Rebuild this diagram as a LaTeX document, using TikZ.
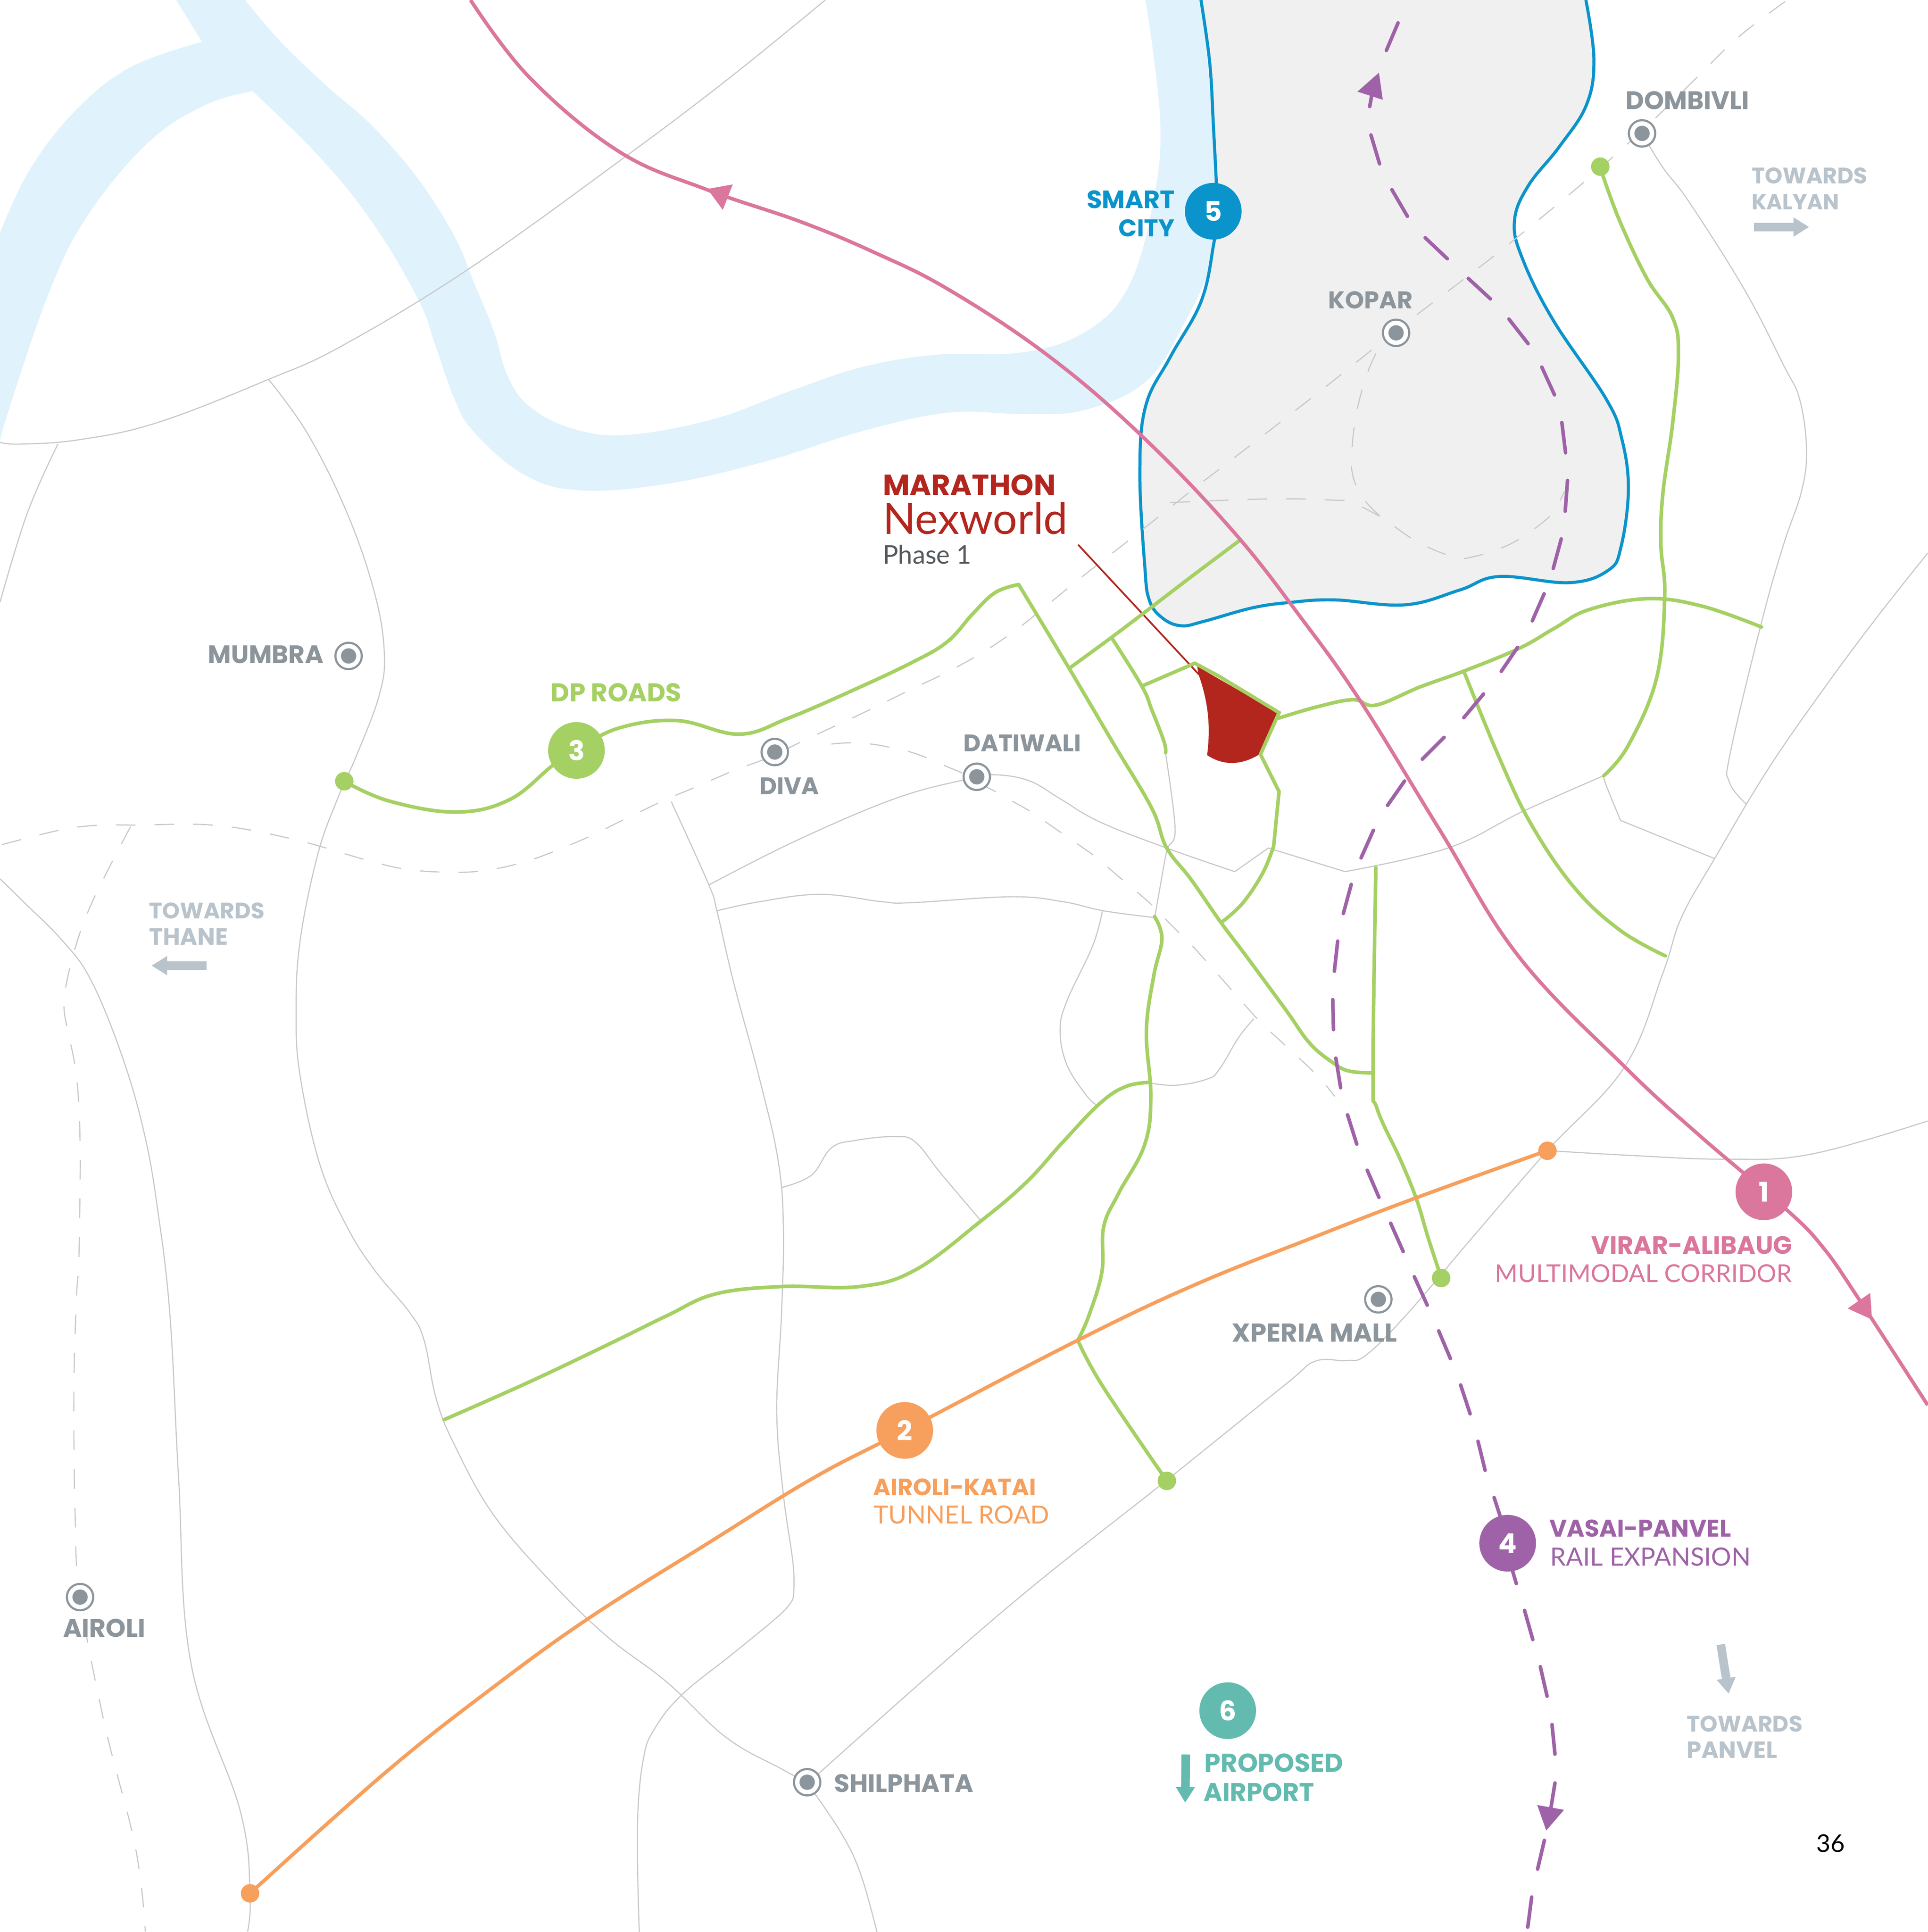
\documentclass[tikz,border=0pt]{standalone}
\usepackage{fontspec}
\usepackage{graphicx}
\setmainfont{Poppins}
\newfontfamily\lightf{Lato}
\usetikzlibrary{arrows.meta}
\definecolor{riverc}{HTML}{E0F2FC}
\definecolor{landc}{HTML}{F0F0F0}
\definecolor{bluec}{HTML}{0A94CB}
\definecolor{roadc}{HTML}{C8C8C8}
\definecolor{greenc}{HTML}{A5D063}
\definecolor{orangec}{HTML}{F79F5C}
\definecolor{pinkc}{HTML}{DB769C}
\definecolor{purplec}{HTML}{9F62A8}
\definecolor{redc}{HTML}{B2261E}
\definecolor{tealc}{HTML}{63BBAF}
\definecolor{grayc}{HTML}{8B959B}
\definecolor{lightc}{HTML}{B9C3CB}
\definecolor{phasec}{HTML}{54595E}
\newcommand{\fitw}[2]{\resizebox{#1pt}{!}{#2}}
\tikzset{
 road/.style={draw=roadc,line width=0.9pt},
 dashroad/.style={draw=roadc,line width=0.9pt,dash pattern=on 16pt off 15.4pt},
 gline/.style={draw=greenc,line width=2.9pt,line cap=round},
 badge/.style={circle,minimum size=46pt,inner sep=0pt,text=white,font=\bfseries\fontsize{22}{22}\selectfont},
 stationmark/.style={circle,draw=grayc,fill=white,line width=1.7pt,minimum size=21.4pt,inner sep=0pt,
   path picture={\fill[grayc] (path picture bounding box.center) circle[radius=6.2pt];}},
 enddot/.style={circle,minimum size=15pt,inner sep=0pt},
 lab/.style={anchor=base west,inner sep=0pt,font=\lightf},
 labb/.style={anchor=base west,inner sep=0pt,font=\bfseries},
 sm/.style={smooth,tension=0.65},
 ptr/.style={line width=7pt,-{Triangle[length=12.7pt,width=14.7pt]}},
}
\begin{document}
\begin{tikzpicture}[x=1pt,y=-1pt]
\useasboundingbox (0,0) rectangle (1565,1568.4);
% river
\fill[riverc] plot[sm] coordinates {(199,0) (228,34) (266,70.5) (303,103) (340,146) (369,192) (385,230) (401,269) (412,305) (430,330) (465,348) (510,353) (580,340) (640,318) (700,298) (760,288) (830,286) (880,270) (915,235) (935,170) (942,100) (930,0)}
 -- (975,0) -- plot[sm] coordinates {(975,0) (985,100) (988,170) (985,210) (960,265) (930,310) (880,333) (830,336) (770,335) (700,350) (620,375) (540,393) (470,398) (425,385) (385,351) (369,324) (353,279) (340,244) (304,183) (260,128) (205,74)}
 -- plot[sm] coordinates {(205,74) (165,86) (119,117) (70.5,176) (40,237) (8,330) (0,358)}
 -- plot[sm] coordinates {(0,189) (24,138) (61,90) (106,54.5) (164,34)} -- (143,0) -- cycle;
% land
\path[fill=landc,draw=bluec,line width=2.5pt] plot[sm] coordinates {(975,0) (982,50) (985,100) (988,170) (985,200) (975,245) (950,290) (930,330) (925.4,384.4) (929.3,458.4) (933,487) (943.6,501.6) (959,508) (977.4,504.4) (1016.5,493.5) (1047.8,489) (1083.7,487) (1140.7,491) (1185,479) (1217,468) (1274,473) (1305.6,463) (1316,444) (1322,397) (1316.6,356) (1304,324) (1261,260) (1236,210) (1229.5,179.5) (1240.6,151) (1266,119) (1288,85) (1294,48) (1287.5,0)};
% roads
\path[road] plot[sm] coordinates {(670,0) (590,65) (502.5,131) (381,218) (279,280) (218,308) (128,343) (64,357) (16,360.5) (0,359)};
\path[road] plot[sm] coordinates {(47,360.5) (22,417) (0,489)};
\path[road] plot[sm] coordinates {(218,308) (250,352.5) (282,417) (304,481) (312,530) (307.7,565) (290,612) (274,648.6) (258,693.5) (243.6,764) (240.4,821.7) (243.6,873) (259.6,945) (282,996.4) (304.5,1031.6) (333,1066) (344.4,1088.4) (354,1135) (368.5,1172) (400.5,1229.5) (448.6,1285.5) (493.5,1329) (541.6,1365.7) (589.6,1410.5) (634.5,1436) (655,1447)};
\path[road] plot[sm] coordinates {(655,1447) (682.6,1487.5) (698.6,1521) (712,1568.5)};
\path[road] plot[sm] coordinates {(0,713.4) (19,732) (51,764) (74,796) (99,857) (117,919.5) (128,982) (138,1068) (145,1200) (155,1350) (195,1470) (203,1537) (201,1568)};
\path[road] plot[sm] coordinates {(545,650.8) (575.5,718.4) (582,739.4) (595.7,798) (616.7,876) (631.7,942) (636,996.4) (634.5,1066) (630.6,1146) (636,1213.4) (644,1271) (644,1297)};
\path[road] plot[sm] coordinates {(644,1297) (634.5,1309.6) (596,1341.6) (554.4,1375) (532,1402.5) (522.3,1428) (517.5,1482.7) (519,1568.5)};
\path[road] plot[sm] coordinates {(575.5,718.4) (646.7,682.3) (728,647.8) (788,632) (809,629) (836,634) (860,648) (893,667.3) (947,688.4) (1002.5,707.6)};
\path[road] (1002.5,707.6) -- (1029.7,688.4) -- (1092,707.6);
\path[road] plot[sm] coordinates {(1092,707.6) (1175.6,688.4) (1236.5,658.6) (1302,629.7)};
\path[road] plot[sm] coordinates {(582,739.4) (616.7,732) (666,726) (716,732) (740,732.8) (821,728) (863,732) (896,739.4) (936.7,744.8)};
\path[road] plot[sm] coordinates {(895,739.4) (887,768) (866,813) (860.7,837) (866,864) (881,888) (890,897)};
\path[road] plot[sm] coordinates {(932.6,879) (954.4,881) (980,876) (990,868) (1005.7,842) (1018,827)};
\path[road] plot[sm] coordinates {(634.7,964) (658.8,954) (675,931.8) (695,925.7) (726,922.7) (743,927) (764,952.8) (795.5,990)};
\path[road] plot[sm] coordinates {(946.3,611.7) (954,672) (948.8,687) (946.7,693) (942.7,715) (937.6,744)};
\path[road] plot[sm] coordinates {(1302,629.7) (1303.8,637) (1315.6,666)};
\path[road] (1315.6,666) -- (1392,697);
\path[road] plot[sm] coordinates {(1333,108) (1350,136) (1372,165) (1416.5,235.6) (1448,296.5) (1461,324) (1466.6,365) (1462.5,399) (1448,442) (1430.8,502.5) (1405,610) (1404,635) (1418,653)};
\path[road] plot[sm] coordinates {(1565,449) (1522.7,502.5) (1480,560) (1435,625) (1392,697) (1365,745) (1350,790) (1319,866) (1256.3,934) (1195,1005) (1143,1066) (1109.5,1099.7) (1093.5,1104.5) (1067.8,1105) (1043.8,1123.7) (952.5,1197.4) (816.5,1306) (663.3,1441)};
\path[road] plot[sm] coordinates {(1256.3,934) (1319,937.7) (1400,941) (1470,937) (1565,910)};
% dashed rail
\path[dashroad] plot[sm] coordinates {(1.6,685.7) (48,674) (78.5,670) (110.6,669.8) (174.7,670) (237,681) (298,698.3) (328.5,705.4) (360.6,708) (391,707) (423,700.5) (452,690.3) (482,677.5) (502.5,667.3) (538.6,650) (567,638) (597,625) (624,615) (655,600) (698,580) (740,559.5) (769,545.6) (797,530) (824,512) (848.6,492.5) (873,472.6) (898,453) (922.7,433.7) (947.6,414) (972,394.5) (998,374.7) (1068,320.5) (1110,287) (1147,258) (1197.8,219.5) (1235,190) (1283.4,150) (1320,118) (1343,96.8) (1377,63.5) (1411,30.4) (1451,0)};
\path[dashroad] plot[sm] coordinates {(106,671) (84,713.4) (70.5,742.5) (60,773) (53,803.4) (52,818.5) (54.5,834.5) (61,865.6) (64,897) (65,929) (65,960) (64,1023.6) (62,1055.7) (60,1130) (61,1230) (65,1296) (85,1400) (110,1500) (118,1568)};
\path[dashroad] plot[sm] coordinates {(1117,287) (1109,306) (1101,336.5) (1097.3,368.6) (1098,384.6) (1103.3,399) (1113,412) (1125,422) (1151,440) (1180,452) (1196,452) (1225.4,442) (1251.7,424.7) (1262.8,413) (1270,399)};
\path[dashroad] plot[sm] coordinates {(950,408) (1030,405) (1082,406) (1098,408) (1125,422)};
\path[dashroad] plot[sm] coordinates {(675,604) (690,603) (707,604) (722,606.6) (737.5,610) (752,615) (767,621.6) (782,628) (795.5,636) (809,643) (823,651) (837,659) (850,668) (863,677) (876,686) (888.6,695) (901,705.5) (913,715.7) (925.3,726) (937,736.4) (948,748) (959,759) (970,770) (1002,806) (1023,829.4) (1046,851) (1069,872.7) (1083.6,890)};
% red plot
\draw[redc,line width=1.4pt] (875.3,442.2) -- (973.5,547.7);
\fill[redc] (972,541) -- (1037,578.5) -- (1022.4,612.4) .. controls (1010,620) and (995,623) .. (980,613) .. controls (983,590) and (981,570) .. (973,547.4) -- cycle;
% green
\path[gline] plot[sm] coordinates {(279.5,634.2) (315.7,650.2) (370,659.2) (413.4,649.3) (448.7,621.4) (468,609) (502.5,591) (550,585) (600,596) (640,583) (691,561) (740,538) (769,521) (790,498) (808,481) (827,474.5)};
\path[gline] plot[sm] coordinates {(827,474.5) (868,542.6) (903,602) (935,656) (947,688) (967,714) (991,748.6) (1012,776.5) (1044,820) (1063.4,847) (1082.6,863) (1095.4,869.5) (1114.7,871)};
\path[gline] plot[sm] coordinates {(868,542.6) (903,517) (934,493.5) (970,466) (1006.7,438.5)};
\path[gline] plot[sm] coordinates {(903,518.5) (927,557) (935,576) (945,602) (946.3,611)};
\path[gline] (927,557) -- (970,538.4) -- (989.7,549) -- (1038.4,578.5) -- (1023.3,612.4) -- (1038.4,642.6) -- (1034,687);
\path[gline] plot[sm] coordinates {(1034,687) (1025,709) (1009,733) (993,747.7)};
\path[gline] plot[sm] coordinates {(1038,583) (1070,573.6) (1098.6,568) (1117,572.4) (1153,557.6) (1188.4,544.8) (1233,526.5) (1262,510) (1289.7,495) (1337,486) (1381.6,492) (1430,509)};
\path[gline] plot[sm] coordinates {(1188.4,544.8) (1217,614.7) (1243,669) (1278,720.4) (1315,755) (1352,776)};
\path[gline] plot[sm] coordinates {(1300.8,141) (1315,179.5) (1337,226) (1358,258) (1362.6,288.5) (1358,343) (1350,400.6) (1348.4,442) (1351.5,484) (1345,550) (1322,605) (1302,629.7)};
\path[gline] plot[sm] coordinates {(1117,704.4) (1114.7,871) (1118,900) (1137,941.6) (1150,973.6) (1159.5,1005) (1170,1037)};
\path[gline] plot[sm] coordinates {(937.3,744) (943.3,762) (936.7,792) (930.7,837) (934.3,891) (929,930) (908,969) (896,996) (894.6,1032.4) (884,1068) (875,1088)};
\path[gline] plot[sm] coordinates {(875,1088) (895,1125) (947.3,1202.2)};
\path[gline] plot[sm] coordinates {(360.5,1152.5) (429.4,1122) (496.7,1090) (541.6,1068) (580.6,1050.5) (634.7,1044.4) (697.8,1044.4) (743,1031) (795.5,991.9) (833,960) (863,927) (893,895.7) (914,882) (934,878.6)};
% corridors
\draw[orangec,line width=2.9pt] plot[sm] coordinates {(203,1537) (314,1438) (400,1370) (479,1313) (573.6,1253.5) (660,1200) (735,1161) (875,1088) (970,1043) (1065,1005) (1148,973) (1256.3,934)};
\draw[pinkc,line width=2.9pt] plot[sm] coordinates {(382,0) (430,63) (502.5,123) (574,154) (650,180) (710,205) (770,235) (850,288) (925,352) (1000,430) (1057,502.5) (1105,570) (1169,674) (1233,776.5) (1319,866) (1380,922) (1450.4,982) (1480.3,1013) (1509.6,1055.3) (1565,1140.7)};
\fill[pinkc] (574.3,153.4) -- (594.9,149.7) -- (586.8,170.4) -- cycle;
\fill[pinkc] (1500,1062.2) -- (1518.3,1049.6) -- (1519.8,1071.2) -- cycle;
\foreach \a/\b/\c/\d in {1135/18.6/1125.5/41,1116/64/1112/86.5,1113/109.6/1120/133,1130/154/1142.6/175.6,1157/193/1175/210,1192/226/1210/242.6,1225/259/1240.6/279,1251.7/298/1262/320.5,1268/343/1271/367.6,1272.6/390/1270.7/415,1267.5/437.5/1261/461.5,1253.6/482/1244/504,1232/525.6/1218.8/545,1204.4/563.4/1188.4/582.6,1172.4/598.6/1154.7/616.3,1140.3/634/1126.5/653.8,1115/674/1105/696.4,1097/718/1090.6/741.6,1086/764/1083.3/788.4,1082/811.5/1082.6/835.8,1084.5/859/1088.4/883,1094/905/1101.5/928.8,1110/950/1119.5/972,1129/993/1139.2/1016,1148.2/1036.4/1158.7/1059.5,1168/1080.4/1177.5/1102.9,1185.8/1124.3/1193.5/1147.7,1199.9/1170/1205.7/1193.6,1213/1215.7/1218.5/1232.7,1222/1255/1231/1285.5,1237.7/1307.3/1244.4/1331,1250.5/1353/1256/1377,1260/1400/1262.4/1424,1262.4/1447.4/1258.5/1471.4,1253.8/1494/1248.3/1517.3,1243.5/1540/1240.3/1564.4}
  \draw[purplec,line width=2.9pt,line cap=round] (\a,\b) -- (\c,\d);
\fill[purplec] (1119.5,59) -- (1102,74.4) -- (1122.6,81) -- cycle;
\fill[purplec] (1248,1465.3) -- (1269.8,1469.2) -- (1255.3,1486) -- cycle;
% end dots
\node[enddot,fill=greenc] (e1) at (279.5,634.2) {};
\node[enddot,fill=greenc] (e2) at (1299.2,135.3) {};
\node[enddot,fill=greenc] (e3) at (1170,1037.5) {};
\node[enddot,fill=greenc] (e4) at (947.3,1202.2) {};
\node[enddot,fill=orangec] (e5) at (203,1537) {};
\node[enddot,fill=orangec] (e6) at (1256.3,934.2) {};
% badges
\node[badge,fill=pinkc] (b1) at (1432,967.5) {1};
\node[badge,fill=orangec] (b2) at (734.5,1161.2) {2};
\node[badge,fill=greenc] (b3) at (468,609.2) {3};
\node[badge,fill=purplec] (b4) at (1224,1252.8) {4};
\node[badge,fill=bluec] (b5) at (985,171.5) {5};
\node[badge,fill=tealc] (b6) at (996.7,1388.7) {6};
% stations
\node[stationmark] (s1) at (1333.1,108.3) {};
\node[stationmark] (s2) at (1133.4,270.2) {};
\node[stationmark] (s3) at (283,532.5) {};
\node[stationmark] (s4) at (629,610.5) {};
\node[stationmark] (s5) at (793,630.6) {};
\node[stationmark] (s6) at (1119,1054.8) {};
\node[stationmark] (s7) at (65,1296.5) {};
\node[stationmark] (s8) at (655.3,1446.8) {};
% station labels
\node[labb,text=grayc] (t1) at (1319.6,88.8) {\fitw{100.4}{DOMBIVLI}};
\node[labb,text=grayc] (t2) at (1078.2,250.3) {\fitw{68.5}{KOPAR}};
\node[labb,text=grayc] (t3) at (168.5,538.5) {\fitw{94}{MUMBRA}};
\node[labb,text=grayc] (t4) at (616.3,644.8) {\fitw{48.5}{DIVA}};
\node[labb,text=grayc] (t5) at (782,610.2) {\fitw{95.5}{DATIWALI}};
\node[labb,text=grayc] (t6) at (1000,1089.4) {\fitw{134}{XPERIA MALL}};
\node[labb,text=grayc] (t7) at (51,1329) {\fitw{67}{AIROLI}};
\node[labb,text=grayc] (t8) at (677,1454.8) {\fitw{113}{SHILPHATA}};
% direction labels
\node[labb,text=lightc] (k1) at (1421.9,149) {\fitw{94}{TOWARDS}};
\node[labb,text=lightc] (k2) at (1421.9,170.2) {\fitw{71}{KALYAN}};
\node[labb,text=lightc] (h1) at (120.8,745.7) {\fitw{94}{TOWARDS}};
\node[labb,text=lightc] (h2) at (120.8,767.2) {\fitw{64}{THANE}};
\node[labb,text=lightc] (p1) at (1369.2,1405.7) {\fitw{94}{TOWARDS}};
\node[labb,text=lightc] (p2) at (1369.2,1427.2) {\fitw{73.5}{PANVEL}};
\coordinate (ka) at (1423.8,184.3); \coordinate (kb) at (1468.8,184.3);
\coordinate (ha) at (167.6,783.9); \coordinate (hb) at (123,783.9);
\coordinate (pa) at (1397,1335); \coordinate (pb) at (1403.4,1375);
\coordinate (aa) at (962.7,1424.3); \coordinate (ab) at (962.2,1463.4);
\draw[lightc,ptr] (ka) -- (kb);
\draw[lightc,ptr] (ha) -- (hb);
\draw[lightc,ptr] (pa) -- (pb);
\draw[tealc,ptr] (aa) -- (ab);
% corridor labels
\node[labb,text=pinkc] (c1) at (1291.8,1017.9) {\fitw{163}{VIRAR-ALIBAUG}};
\node[lab,text=pinkc] (c1b) at (1213.6,1041) {\fitw{241}{MULTIMODAL CORRIDOR}};
\node[labb,text=orangec] (c2) at (708.9,1214) {\fitw{132}{AIROLI-KATAI}};
\node[lab,text=orangec] (c2b) at (709.2,1237) {\fitw{142.5}{TUNNEL ROAD}};
\node[labb,text=greenc] (c3) at (447,569.5) {\fitw{106}{DP ROADS}};
\node[labb,text=purplec] (c4) at (1257.6,1247.7) {\fitw{147.6}{VASAI-PANVEL}};
\node[lab,text=purplec] (c4b) at (1258.5,1271) {\fitw{162.5}{RAIL EXPANSION}};
\node[labb,text=bluec] (c5) at (882,169) {\fitw{71.5}{SMART}};
\node[labb,text=bluec] (c5b) at (908,192) {\fitw{45.5}{CITY}};
\node[labb,text=tealc] (c6) at (977.7,1438.4) {\fitw{112.6}{PROPOSED}};
\node[labb,text=tealc] (c6b) at (977,1462) {\fitw{89.6}{AIRPORT}};
% project
\node[labb,text=redc] (m1) at (716.5,402.3) {\fitw{140.5}{MARATHON}};
\node[lab,text=redc] (m2) at (716.5,433.5) {\fitw{150}{Nexworld}};
\node[lab,text=phasec] (m3) at (716.5,457.6) {\fitw{72}{Phase 1}};
\node[lab,text=black] (pg) at (1474.5,1503.5) {\fitw{23}{36}};
\end{tikzpicture}
\end{document}
